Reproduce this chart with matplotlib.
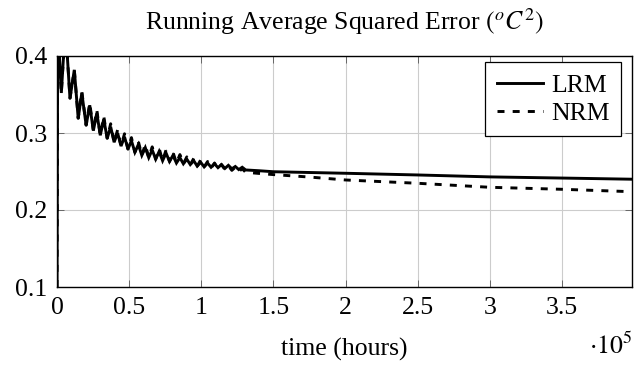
import matplotlib
matplotlib.use("Agg")
import matplotlib.pyplot as plt
import numpy as np

plt.rcParams['font.family'] = ['Liberation Serif', 'DejaVu Serif']
plt.rcParams['mathtext.fontset'] = 'stix'

# ---- data (hours, squared error) ----
osc_hours = [0, 500, 3000, 5800, 9000, 12000, 14700, 17200, 20200, 22700, 25200,
             27600, 30000, 32400, 34800, 37200, 39600, 42000, 44400, 46800, 49200,
             51600, 54000, 56400, 58800, 61200, 63600, 66000, 68400, 70800, 73200,
             75600, 78000, 80400, 82800, 85200, 87600, 90000, 92400, 94800, 97200,
             99600, 102000, 104400, 106800, 109200, 111600, 114000, 116400, 118800,
             121200, 123600, 126000, 128400, 130800]
lrm_osc = [0.100, 0.440, 0.352, 0.440, 0.345, 0.382, 0.319, 0.352, 0.310, 0.336, 0.303,
           0.326, 0.297, 0.318, 0.293, 0.308, 0.288, 0.300, 0.283, 0.295, 0.279,
           0.290, 0.275, 0.285, 0.271, 0.281, 0.268, 0.278, 0.266, 0.276, 0.264,
           0.274, 0.263, 0.271, 0.261, 0.268, 0.260, 0.266, 0.259, 0.264, 0.257,
           0.262, 0.256, 0.261, 0.2555, 0.260, 0.255, 0.259, 0.254, 0.258,
           0.2535, 0.2565, 0.2525, 0.2555, 0.252]
nrm_osc = [0.100, 0.440, 0.352, 0.440, 0.345, 0.382, 0.319, 0.354, 0.310, 0.339, 0.303,
           0.330, 0.297, 0.322, 0.293, 0.312, 0.288, 0.304, 0.283, 0.299, 0.279,
           0.294, 0.275, 0.289, 0.271, 0.285, 0.268, 0.282, 0.266, 0.280, 0.264,
           0.278, 0.263, 0.275, 0.261, 0.272, 0.260, 0.269, 0.259, 0.267, 0.257,
           0.265, 0.256, 0.263, 0.2545, 0.261, 0.2535, 0.259, 0.2525, 0.2575,
           0.2515, 0.2555, 0.250, 0.2535, 0.249]

tail_hours = [140000, 150000, 175000, 200000, 250000, 300000, 350000, 398000]
lrm_tail = [0.2510, 0.2497, 0.2487, 0.2477, 0.2455, 0.2430, 0.2415, 0.2400]
nrm_tail = [0.2475, 0.2460, 0.2428, 0.2390, 0.2347, 0.2295, 0.2269, 0.2238]

x_ticks = [0, 50000, 100000, 150000, 200000, 250000, 300000, 350000]
x_tick_labels = ['0', '0.5', '1', '1.5', '2', '2.5', '3', '3.5']
y_ticks = [0.1, 0.2, 0.3, 0.4]
y_tick_labels = ['0.1', '0.2', '0.3', '0.4']

x_lrm = osc_hours + tail_hours
y_lrm = lrm_osc + lrm_tail
x_nrm = osc_hours + tail_hours
y_nrm = nrm_osc + nrm_tail

FS = 18.5

fig = plt.figure(figsize=(6.44, 3.66), dpi=100)
ax = fig.add_axes([57/644, 1 - 287/366, (632-57)/644, (287-56)/366])

ax.plot(x_lrm, y_lrm, color='black', lw=2.1, solid_joinstyle='miter', label='LRM')
ax.plot(x_nrm, y_nrm, color='black', lw=2.1, dashes=(2.4, 2.8), label='NRM')

ax.set_xlim(0, 398600)
ax.set_ylim(0.1, 0.4)
ax.set_xticks(x_ticks)
ax.set_xticklabels(x_tick_labels)
ax.set_yticks(y_ticks)
ax.set_yticklabels(y_tick_labels)
ax.grid(True, color='#cccccc', lw=0.8)
ax.set_axisbelow(True)
ax.tick_params(direction='in', length=5, width=0.7, color='0.4', labelsize=FS,
               top=True, right=True, pad=7)
for s in ax.spines.values():
    s.set_linewidth(1.0)
    s.set_color('black')

ax.set_xlabel('time (hours)', fontsize=FS, labelpad=14)
ax.set_title(r'Running Average Squared Error $(^oC^2)$', fontsize=FS, pad=19)
ax.text(1.0, -0.29, r'$\cdot10^5$', transform=ax.transAxes, ha='right', va='baseline',
        fontsize=FS)

leg = ax.legend(loc='upper right', bbox_to_anchor=(0.981, 0.974), borderaxespad=0,
                fontsize=FS, handlelength=1.8, handletextpad=0.3, labelspacing=0.2,
                borderpad=0.45, fancybox=False, framealpha=1, edgecolor='black')
leg.get_frame().set_linewidth(0.9)

fig.savefig('out.png', dpi=100)
